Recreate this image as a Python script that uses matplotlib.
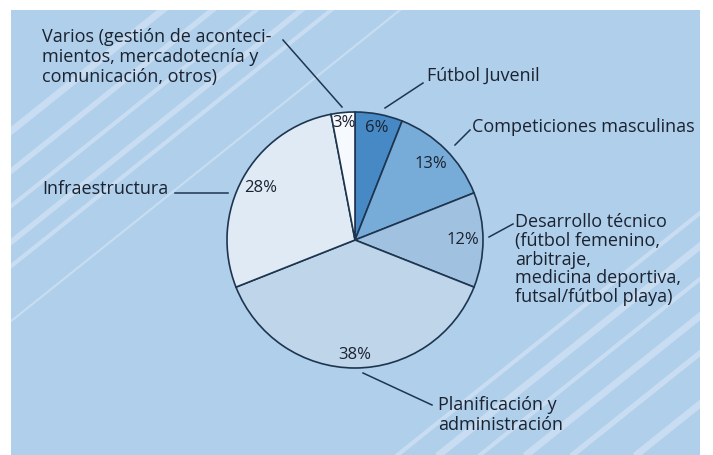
import matplotlib
matplotlib.use("Agg")
import matplotlib.pyplot as plt
import numpy as np
from matplotlib.patches import Rectangle

# ---- data ----
categories = [
    "Fútbol Juvenil",
    "Competiciones masculinas",
    "Desarrollo técnico\n(fútbol femenino,\narbitraje,\nmedicina deportiva,\nfutsal/fútbol playa)",
    "Planificación y\nadministración",
    "Infraestructura",
    "Varios (gestión de aconteci-\nmientos, mercadotecnía y\ncomunicación, otros)",
]
values = [6, 13, 12, 38, 28, 3]
pct_labels = ["6%", "13%", "12%", "38%", "28%", "3%"]

# ---- styles / layout ----
colors = ["#4689c5", "#78acd8", "#a0c2e0", "#bfd5ea", "#dfeaf5", "#f6f9fd"]
pct_dist = [0.89, 0.84, 0.84, 0.90, 0.84, 0.92]
W, H = 713, 455
cx, cy, R = 355, 240, 128          # pixel coords (y from top)
leaders = [
    ((385, 108), (423, 83)),
    ((455, 145), (470, 130)),
    ((489, 237), (513, 224)),
    ((363, 373), (432, 405)),
    ((228, 193), (175, 193)),
    ((342, 107), (283, 40)),
]
# text anchor: (x, first baseline y, line step)
text_pos = [
    (427, 81, 20),
    (472, 132, 20),
    (515, 227, 18.8),
    (438, 410, 20),
    (42, 194, 20),
    (42, 42, 20),
]
text_color = "#1b2230"
edge_color = "#1e3550"
font = ["Open Sans", "DejaVu Sans"]
plt.rcParams["font.family"] = font

fig = plt.figure(figsize=(W / 100, H / 100), dpi=100)
ax = fig.add_axes([0, 0, 1, 1])
ax.axis("off")

def py(y):
    return H - y

# panel
ax.add_patch(Rectangle((11, 0), 689, py(10), facecolor="#afcfea", edgecolor="none", zorder=0))

# decorative stripes (y = c - k*x in pixel coords)
k = 0.80
stripes = [(140, 5), (180, 4), (215, 3), (251, 4), (275, 3), (330, 1.5),
           (773, 3), (806, 5), (839, 3), (876, 5), (913, 4), (964, 5)]
clip_rect = Rectangle((11, 0), 689, py(10), transform=ax.transData)
for c, lw in stripes:
    xs = np.array([0, W])
    ys = c - k * xs
    ln, = ax.plot(xs, [py(v) for v in ys], color="#c8ddf1", lw=lw,
                  solid_capstyle="butt", zorder=1)
    ln.set_clip_path(clip_rect)

# pie
wedges, _ = ax.pie(values, colors=colors, startangle=90, counterclock=False,
                   center=(cx, py(cy)), radius=R,
                   wedgeprops=dict(edgecolor=edge_color, linewidth=1.2))
for w in wedges:
    w.set_zorder(3)
ax.set_xlim(0, W)
ax.set_ylim(0, H)
ax.set_aspect("equal")
ax.axis("off")

for w, lab, d in zip(wedges, pct_labels, pct_dist):
    ang = np.deg2rad((w.theta1 + w.theta2) / 2)
    ax.text(cx + d * R * np.cos(ang), py(cy) + d * R * np.sin(ang), lab,
            ha="center", va="center", fontsize=12, color=text_color, zorder=4)

for cat, (s, e), (tx, ty, step) in zip(categories, leaders, text_pos):
    ax.plot([s[0], e[0]], [py(s[1]), py(e[1])], color=edge_color, lw=1.1, zorder=4)
    for i, line in enumerate(cat.split("\n")):
        ax.text(tx, py(ty + i * step), line, ha="left", va="baseline",
                fontsize=13, color=text_color, zorder=4)

fig.savefig("out.png", dpi=100)
